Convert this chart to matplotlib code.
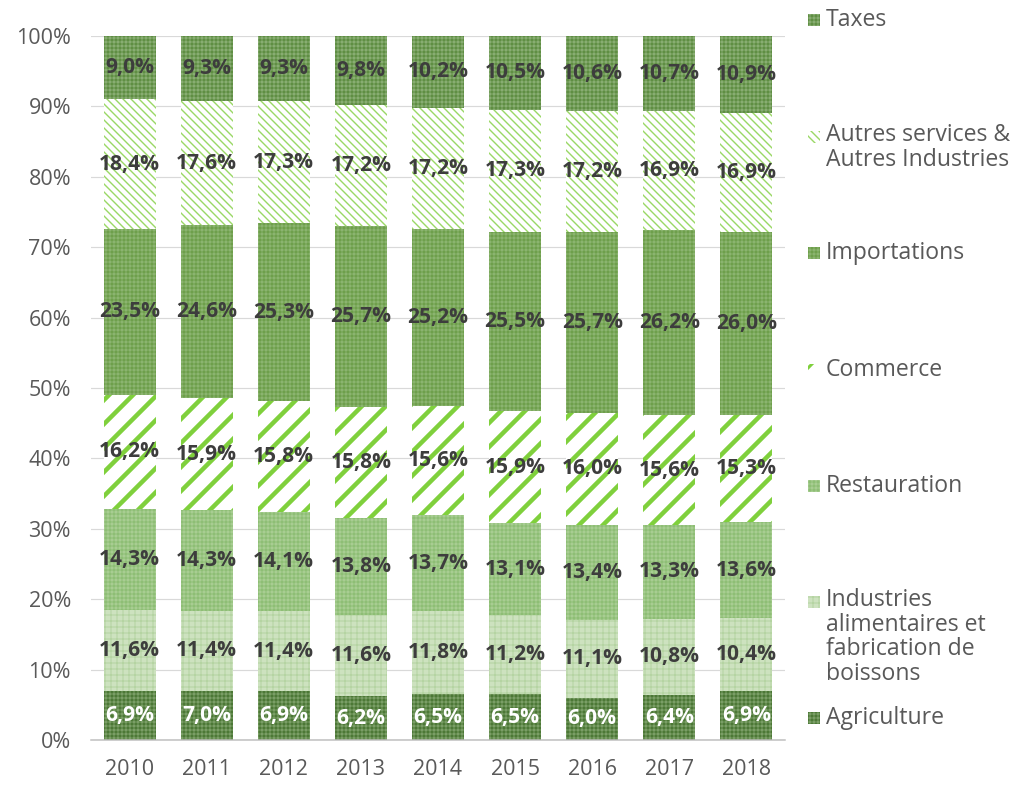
import numpy as np
import matplotlib
matplotlib.use("Agg")
import matplotlib.pyplot as plt
from matplotlib.patches import Rectangle

plt.rcParams['font.family'] = ['Open Sans', 'DejaVu Sans']

years = ["2010", "2011", "2012", "2013", "2014", "2015", "2016", "2017", "2018"]

agriculture = [6.9, 7.0, 6.9, 6.2, 6.5, 6.5, 6.0, 6.4, 6.9]
industries = [11.6, 11.4, 11.4, 11.6, 11.8, 11.2, 11.1, 10.8, 10.4]
restauration = [14.3, 14.3, 14.1, 13.8, 13.7, 13.1, 13.4, 13.3, 13.6]
commerce = [16.2, 15.9, 15.8, 15.8, 15.6, 15.9, 16.0, 15.6, 15.3]
importations = [23.5, 24.6, 25.3, 25.7, 25.2, 25.5, 25.7, 26.2, 26.0]
autres = [18.4, 17.6, 17.3, 17.2, 17.2, 17.3, 17.2, 16.9, 16.9]
taxes = [9.0, 9.3, 9.3, 9.8, 10.2, 10.5, 10.6, 10.7, 10.9]

labels = ["Agriculture", "Industries\nalimentaires et\nfabrication de\nboissons",
          "Restauration", "Commerce", "Importations",
          "Autres services &\nAutres Industries", "Taxes"]
series = [agriculture, industries, restauration, commerce, importations, autres, taxes]

# face, hatch, hatch colour, hatch width, label colour
styles = [
    ("#4c7836", "+++", "#7a9e66", 1.0, "white"),
    ("#cde2bf", "++", "#b5d4a2", 1.0, "#3d3d3d"),
    ("#a8cd92", "+++", "#8ebe75", 1.0, "#3d3d3d"),
    ("white", "/", "#7fd03c", 4.5, "#3d3d3d"),
    ("#6e9f4b", "+++", "#8bb46f", 1.0, "#3d3d3d"),
    ("white", "\\\\\\", "#9ad866", 1.4, "#3d3d3d"),
    ("#5f8e43", "+++", "#88ad72", 1.0, "#3d3d3d"),
]

data = np.array(series)
shares = data / data.sum(axis=0) * 100

# dpi 72 -> 1 pt = 1 px, keeps the hatch spacing tight
W, H = 1033, 786
fig = plt.figure(figsize=(W / 72, H / 72), dpi=72)
ax = fig.add_axes([91 / W, 46 / H, 694 / W, 704 / H])

x = np.arange(len(years))
bottom = np.zeros(len(years))
for i, (vals, lab) in enumerate(zip(shares, labels)):
    face, hatch, hcol, hlw, tcol = styles[i]
    with plt.rc_context({"hatch.linewidth": hlw, "hatch.color": hcol}):
        ax.bar(x, vals, 0.675, bottom=bottom, color=face, hatch=hatch,
               edgecolor=hcol, linewidth=0, zorder=2)
    for xi, b, v, raw in zip(x, bottom, vals, data[i]):
        ax.text(xi, b + v / 2, f"{raw:.1f}%".replace(".", ","), ha="center",
                va="center", fontsize=21, fontweight="bold", color=tcol, zorder=3)
    bottom += vals

ax.set_xlim(-0.5, 8.5)
ax.set_ylim(0, 100)
ax.set_yticks(np.arange(0, 101, 10))
ax.set_yticklabels([f"{v}%" for v in range(0, 101, 10)])
ax.set_xticks(x)
ax.set_xticklabels(years)
ax.tick_params(length=0, labelsize=21.5, colors="#595959")
ax.tick_params(axis="y", pad=20)
ax.tick_params(axis="x", pad=19)
ax.grid(axis="y", color="#d9d9d9", linewidth=1.2, zorder=0)
for s in ["top", "right", "left"]:
    ax.spines[s].set_visible(False)
ax.spines["bottom"].set_color("#bfbfbf")
ax.spines["bottom"].set_linewidth(1.5)
ax.spines["bottom"].set_zorder(3)

# legend drawn by hand, top to bottom
leg_y = [20, 137, 253, 370, 486, 602, 718]
order = list(range(len(labels)))[::-1]
for yp, i in zip(leg_y, order):
    face, hatch, hcol, hlw, tcol = styles[i]
    with plt.rc_context({"hatch.linewidth": min(hlw, 3.0), "hatch.color": hcol}):
        fig.patches.append(Rectangle((808 / W, 1 - (yp + 6) / H), 12 / W, 12 / H,
                                     transform=fig.transFigure, facecolor=face,
                                     hatch=hatch, edgecolor=hcol, linewidth=0))
    if "\n" in labels[i]:
        fig.text(826 / W, 1 - (yp - 14) / H, labels[i], ha="left", va="top",
                 fontsize=23, color="#595959", linespacing=1.04)
    else:
        fig.text(826 / W, 1 - yp / H, labels[i], ha="left", va="center",
                 fontsize=23, color="#595959")

fig.savefig("out.png", dpi=72)
